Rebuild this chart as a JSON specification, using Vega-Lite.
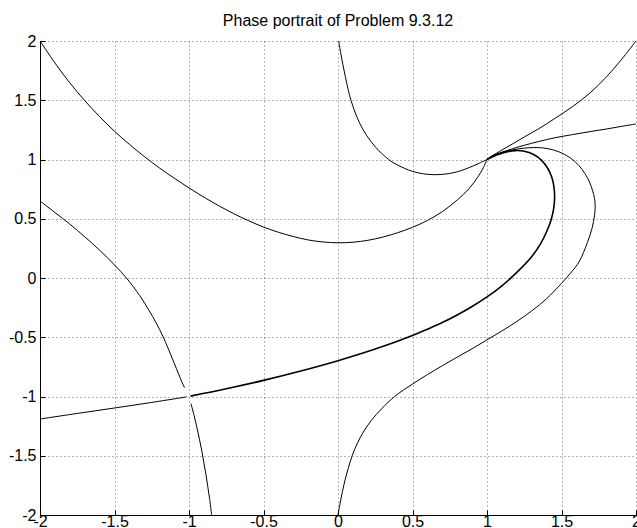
{
  "$schema": "https://vega.github.io/schema/vega-lite/v6.json",
  "autosize": "none",
  "width": 596,
  "height": 474,
  "padding": {"left": 40, "top": 41, "right": 1, "bottom": 13},
  "background": "white",
  "config": {
    "view": {"stroke": null},
    "font": "Liberation Sans",
    "axis": {
      "labelFont": "Liberation Sans",
      "labelFontSize": 16,
      "labelColor": "black",
      "domainColor": "black",
      "tickColor": "black",
      "gridColor": "#666",
      "gridDash": [1, 3],
      "gridWidth": 1,
      "gridOpacity": 1,
      "title": null
    }
  },
  "title": {
    "text": "Phase portrait of Problem 9.3.12",
    "fontSize": 16,
    "fontWeight": "normal",
    "font": "Liberation Sans",
    "color": "black",
    "anchor": "middle",
    "frame": "group",
    "baseline": "alphabetic",
    "offset": 5,
    "dy": 14
  },
  "data": {
    "values": [
      {"c": 1, "o": 1, "x": -2.0, "y": 2.0},
      {"c": 1, "o": 2, "x": -1.9, "y": 1.815},
      {"c": 1, "o": 3, "x": -1.8, "y": 1.647},
      {"c": 1, "o": 4, "x": -1.7, "y": 1.497},
      {"c": 1, "o": 5, "x": -1.6, "y": 1.362},
      {"c": 1, "o": 6, "x": -1.5, "y": 1.238},
      {"c": 1, "o": 7, "x": -1.4, "y": 1.128},
      {"c": 1, "o": 8, "x": -1.3, "y": 1.025},
      {"c": 1, "o": 9, "x": -1.2, "y": 0.93},
      {"c": 1, "o": 10, "x": -1.1, "y": 0.843},
      {"c": 1, "o": 11, "x": -1.0, "y": 0.76},
      {"c": 1, "o": 12, "x": -0.9, "y": 0.682},
      {"c": 1, "o": 13, "x": -0.8, "y": 0.609},
      {"c": 1, "o": 14, "x": -0.7, "y": 0.543},
      {"c": 1, "o": 15, "x": -0.6, "y": 0.483},
      {"c": 1, "o": 16, "x": -0.5, "y": 0.43},
      {"c": 1, "o": 17, "x": -0.4, "y": 0.386},
      {"c": 1, "o": 18, "x": -0.3, "y": 0.35},
      {"c": 1, "o": 19, "x": -0.2, "y": 0.321},
      {"c": 1, "o": 20, "x": -0.1, "y": 0.304},
      {"c": 1, "o": 21, "x": 0.0, "y": 0.297},
      {"c": 1, "o": 22, "x": 0.1, "y": 0.302},
      {"c": 1, "o": 23, "x": 0.2, "y": 0.318},
      {"c": 1, "o": 24, "x": 0.3, "y": 0.345},
      {"c": 1, "o": 25, "x": 0.4, "y": 0.382},
      {"c": 1, "o": 26, "x": 0.5, "y": 0.428},
      {"c": 1, "o": 27, "x": 0.6, "y": 0.485},
      {"c": 1, "o": 28, "x": 0.7, "y": 0.56},
      {"c": 1, "o": 29, "x": 0.8, "y": 0.658},
      {"c": 1, "o": 30, "x": 0.88, "y": 0.755},
      {"c": 1, "o": 31, "x": 0.94, "y": 0.855},
      {"c": 1, "o": 32, "x": 0.975, "y": 0.93},
      {"c": 1, "o": 33, "x": 1.0, "y": 1.0},
      {"c": 2, "o": 1, "x": 0.005, "y": 2.0},
      {"c": 2, "o": 2, "x": 0.018, "y": 1.9},
      {"c": 2, "o": 3, "x": 0.033, "y": 1.8},
      {"c": 2, "o": 4, "x": 0.049, "y": 1.7},
      {"c": 2, "o": 5, "x": 0.066, "y": 1.6},
      {"c": 2, "o": 6, "x": 0.087, "y": 1.5},
      {"c": 2, "o": 7, "x": 0.114, "y": 1.4},
      {"c": 2, "o": 8, "x": 0.148, "y": 1.3},
      {"c": 2, "o": 9, "x": 0.194, "y": 1.2},
      {"c": 2, "o": 10, "x": 0.255, "y": 1.1},
      {"c": 2, "o": 11, "x": 0.34, "y": 1.0},
      {"c": 2, "o": 12, "x": 0.4, "y": 0.953},
      {"c": 2, "o": 13, "x": 0.5, "y": 0.9},
      {"c": 2, "o": 14, "x": 0.6, "y": 0.875},
      {"c": 2, "o": 15, "x": 0.7, "y": 0.874},
      {"c": 2, "o": 16, "x": 0.8, "y": 0.896},
      {"c": 2, "o": 17, "x": 0.9, "y": 0.942},
      {"c": 2, "o": 18, "x": 0.95, "y": 0.97},
      {"c": 2, "o": 19, "x": 1.0, "y": 1.0},
      {"c": 3, "o": 1, "x": -2.0, "y": 0.65},
      {"c": 3, "o": 2, "x": -1.9, "y": 0.553},
      {"c": 3, "o": 3, "x": -1.8, "y": 0.455},
      {"c": 3, "o": 4, "x": -1.7, "y": 0.348},
      {"c": 3, "o": 5, "x": -1.6, "y": 0.235},
      {"c": 3, "o": 6, "x": -1.5, "y": 0.11},
      {"c": 3, "o": 7, "x": -1.42, "y": 0.0},
      {"c": 3, "o": 8, "x": -1.33, "y": -0.15},
      {"c": 3, "o": 9, "x": -1.27, "y": -0.27},
      {"c": 3, "o": 10, "x": -1.22, "y": -0.38},
      {"c": 3, "o": 11, "x": -1.176, "y": -0.49},
      {"c": 3, "o": 12, "x": -1.138, "y": -0.6},
      {"c": 3, "o": 13, "x": -1.102, "y": -0.71},
      {"c": 3, "o": 14, "x": -1.07, "y": -0.81},
      {"c": 3, "o": 15, "x": -1.045, "y": -0.885},
      {"c": 3, "o": 16, "x": -1.03, "y": -0.925},
      {"c": 4, "o": 1, "x": -0.987, "y": -1.06},
      {"c": 4, "o": 2, "x": -0.966, "y": -1.16},
      {"c": 4, "o": 3, "x": -0.947, "y": -1.26},
      {"c": 4, "o": 4, "x": -0.93, "y": -1.36},
      {"c": 4, "o": 5, "x": -0.914, "y": -1.46},
      {"c": 4, "o": 6, "x": -0.9, "y": -1.56},
      {"c": 4, "o": 7, "x": -0.886, "y": -1.66},
      {"c": 4, "o": 8, "x": -0.874, "y": -1.76},
      {"c": 4, "o": 9, "x": -0.862, "y": -1.86},
      {"c": 4, "o": 10, "x": -0.852, "y": -1.96},
      {"c": 4, "o": 11, "x": -0.848, "y": -2.0},
      {"c": 5, "o": 1, "x": -2.0, "y": -1.19},
      {"c": 5, "o": 2, "x": -1.75, "y": -1.143},
      {"c": 5, "o": 3, "x": -1.5, "y": -1.097},
      {"c": 5, "o": 4, "x": -1.25, "y": -1.05},
      {"c": 5, "o": 5, "x": -1.015, "y": -1.003},
      {"c": 6, "o": 1, "x": -0.99, "y": -0.997},
      {"c": 6, "o": 2, "x": -0.75, "y": -0.935},
      {"c": 6, "o": 3, "x": -0.5, "y": -0.864},
      {"c": 6, "o": 4, "x": -0.25, "y": -0.785},
      {"c": 6, "o": 5, "x": 0.0, "y": -0.698},
      {"c": 6, "o": 6, "x": 0.25, "y": -0.6},
      {"c": 6, "o": 7, "x": 0.5, "y": -0.485},
      {"c": 6, "o": 8, "x": 0.6, "y": -0.432},
      {"c": 6, "o": 9, "x": 0.7, "y": -0.376},
      {"c": 6, "o": 10, "x": 0.8, "y": -0.312},
      {"c": 6, "o": 11, "x": 0.9, "y": -0.241},
      {"c": 6, "o": 12, "x": 1.0, "y": -0.16},
      {"c": 6, "o": 13, "x": 1.1, "y": -0.066},
      {"c": 6, "o": 14, "x": 1.2, "y": 0.048},
      {"c": 6, "o": 15, "x": 1.3, "y": 0.18},
      {"c": 6, "o": 16, "x": 1.36, "y": 0.29},
      {"c": 6, "o": 17, "x": 1.4, "y": 0.39},
      {"c": 6, "o": 18, "x": 1.43, "y": 0.49},
      {"c": 6, "o": 19, "x": 1.448, "y": 0.59},
      {"c": 6, "o": 20, "x": 1.454, "y": 0.685},
      {"c": 6, "o": 21, "x": 1.448, "y": 0.78},
      {"c": 6, "o": 22, "x": 1.432, "y": 0.86},
      {"c": 6, "o": 23, "x": 1.405, "y": 0.93},
      {"c": 6, "o": 24, "x": 1.365, "y": 0.995},
      {"c": 6, "o": 25, "x": 1.31, "y": 1.045},
      {"c": 6, "o": 26, "x": 1.25, "y": 1.07},
      {"c": 6, "o": 27, "x": 1.19, "y": 1.075},
      {"c": 6, "o": 28, "x": 1.124, "y": 1.062},
      {"c": 6, "o": 29, "x": 1.065, "y": 1.038},
      {"c": 6, "o": 30, "x": 1.0, "y": 1.0},
      {"c": 7, "o": 1, "x": 0.0, "y": -2.0},
      {"c": 7, "o": 2, "x": 0.014, "y": -1.9},
      {"c": 7, "o": 3, "x": 0.03, "y": -1.8},
      {"c": 7, "o": 4, "x": 0.048, "y": -1.7},
      {"c": 7, "o": 5, "x": 0.07, "y": -1.6},
      {"c": 7, "o": 6, "x": 0.095, "y": -1.5},
      {"c": 7, "o": 7, "x": 0.128, "y": -1.4},
      {"c": 7, "o": 8, "x": 0.17, "y": -1.3},
      {"c": 7, "o": 9, "x": 0.225, "y": -1.2},
      {"c": 7, "o": 10, "x": 0.295, "y": -1.1},
      {"c": 7, "o": 11, "x": 0.38, "y": -1.0},
      {"c": 7, "o": 12, "x": 0.5, "y": -0.895},
      {"c": 7, "o": 13, "x": 0.6, "y": -0.815},
      {"c": 7, "o": 14, "x": 0.7, "y": -0.74},
      {"c": 7, "o": 15, "x": 0.8, "y": -0.668},
      {"c": 7, "o": 16, "x": 0.9, "y": -0.597},
      {"c": 7, "o": 17, "x": 1.0, "y": -0.522},
      {"c": 7, "o": 18, "x": 1.1, "y": -0.447},
      {"c": 7, "o": 19, "x": 1.2, "y": -0.367},
      {"c": 7, "o": 20, "x": 1.3, "y": -0.278},
      {"c": 7, "o": 21, "x": 1.4, "y": -0.175},
      {"c": 7, "o": 22, "x": 1.5, "y": -0.045},
      {"c": 7, "o": 23, "x": 1.56, "y": 0.04},
      {"c": 7, "o": 24, "x": 1.618, "y": 0.137},
      {"c": 7, "o": 25, "x": 1.674, "y": 0.3},
      {"c": 7, "o": 26, "x": 1.705, "y": 0.42},
      {"c": 7, "o": 27, "x": 1.722, "y": 0.53},
      {"c": 7, "o": 28, "x": 1.726, "y": 0.6},
      {"c": 7, "o": 29, "x": 1.722, "y": 0.67},
      {"c": 7, "o": 30, "x": 1.708, "y": 0.74},
      {"c": 7, "o": 31, "x": 1.688, "y": 0.81},
      {"c": 7, "o": 32, "x": 1.658, "y": 0.88},
      {"c": 7, "o": 33, "x": 1.616, "y": 0.95},
      {"c": 7, "o": 34, "x": 1.56, "y": 1.013},
      {"c": 7, "o": 35, "x": 1.483, "y": 1.065},
      {"c": 7, "o": 36, "x": 1.41, "y": 1.091},
      {"c": 7, "o": 37, "x": 1.348, "y": 1.1},
      {"c": 7, "o": 38, "x": 1.28, "y": 1.099},
      {"c": 7, "o": 39, "x": 1.213, "y": 1.09},
      {"c": 7, "o": 40, "x": 1.15, "y": 1.075},
      {"c": 7, "o": 41, "x": 1.1, "y": 1.059},
      {"c": 7, "o": 42, "x": 1.05, "y": 1.035},
      {"c": 7, "o": 43, "x": 1.0, "y": 1.0},
      {"c": 8, "o": 1, "x": 1.0, "y": 1.0},
      {"c": 8, "o": 2, "x": 1.034, "y": 1.03},
      {"c": 8, "o": 3, "x": 1.1, "y": 1.08},
      {"c": 8, "o": 4, "x": 1.169, "y": 1.13},
      {"c": 8, "o": 5, "x": 1.25, "y": 1.19},
      {"c": 8, "o": 6, "x": 1.348, "y": 1.26},
      {"c": 8, "o": 7, "x": 1.45, "y": 1.342},
      {"c": 8, "o": 8, "x": 1.573, "y": 1.445},
      {"c": 8, "o": 9, "x": 1.69, "y": 1.56},
      {"c": 8, "o": 10, "x": 1.8, "y": 1.695},
      {"c": 8, "o": 11, "x": 1.9, "y": 1.84},
      {"c": 8, "o": 12, "x": 2.0, "y": 2.0},
      {"c": 9, "o": 1, "x": 1.0, "y": 1.0},
      {"c": 9, "o": 2, "x": 1.034, "y": 1.03},
      {"c": 9, "o": 3, "x": 1.1, "y": 1.062},
      {"c": 9, "o": 4, "x": 1.169, "y": 1.09},
      {"c": 9, "o": 5, "x": 1.25, "y": 1.12},
      {"c": 9, "o": 6, "x": 1.348, "y": 1.152},
      {"c": 9, "o": 7, "x": 1.45, "y": 1.182},
      {"c": 9, "o": 8, "x": 1.573, "y": 1.21},
      {"c": 9, "o": 9, "x": 1.7, "y": 1.237},
      {"c": 9, "o": 10, "x": 1.8, "y": 1.257},
      {"c": 9, "o": 11, "x": 1.9, "y": 1.279},
      {"c": 9, "o": 12, "x": 2.0, "y": 1.3}
    ]
  },
  "layer": [
    {
      "transform": [{"filter": "datum.c != 6"}],
      "mark": {"type": "line", "color": "black", "strokeWidth": 1, "interpolate": "catmull-rom", "clip": true},
      "encoding": {
        "x": {
          "field": "x", "type": "quantitative",
          "scale": {"domain": [-2, 2], "nice": false, "zero": false},
          "axis": {
            "values": [-2, -1.5, -1, -0.5, 0, 0.5, 1, 1.5, 2],
            "grid": true,
            "tickSize": -5,
            "labelPadding": 3,
            "labelExpr": "'' + datum.value",
            "labelFlush": false,
            "labelOverlap": false
          }
        },
        "y": {
          "field": "y", "type": "quantitative",
          "scale": {"domain": [-2, 2], "nice": false, "zero": false},
          "axis": {
            "values": [-2, -1.5, -1, -0.5, 0, 0.5, 1, 1.5, 2],
            "grid": true,
            "tickSize": -5,
            "labelPadding": 9,
            "labelExpr": "'' + datum.value",
            "labelFlush": false,
            "labelOverlap": false
          }
        },
        "detail": {"field": "c", "type": "nominal"},
        "order": {"field": "o", "type": "quantitative"}
      }
    },
    {
      "transform": [{"filter": "datum.c == 6"}],
      "mark": {"type": "line", "color": "black", "strokeWidth": 1.6, "interpolate": "catmull-rom", "clip": true},
      "encoding": {
        "x": {"field": "x", "type": "quantitative"},
        "y": {"field": "y", "type": "quantitative"},
        "detail": {"field": "c", "type": "nominal"},
        "order": {"field": "o", "type": "quantitative"}
      }
    }
  ]
}
